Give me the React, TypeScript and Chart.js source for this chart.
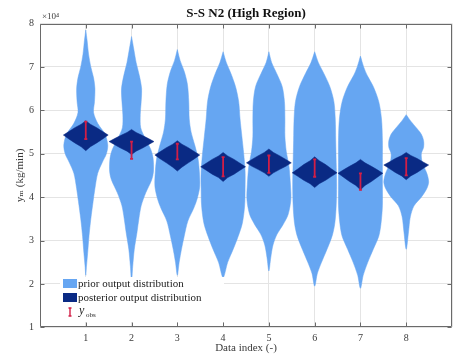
import React, { useEffect, useRef } from 'react';
import { Chart, registerables } from 'chart.js';

Chart.register(...registerables);

// ---- data ----
const categories = [1, 2, 3, 4, 5, 6, 7, 8];
const yTickValues = [1, 2, 3, 4, 5, 6, 7, 8];

// prior violins: y levels (x10^4) and half widths (x units)
const priorY1 = [7.85, 7.6, 7.3, 7.0, 6.75, 6.5, 6.2, 5.95, 5.7, 5.45, 5.2, 5.0, 4.8, 4.55, 4.2, 3.9, 3.5, 3.1, 2.7, 2.4, 2.2];
const priorW1 = [0, 0.03, 0.06, 0.11, 0.17, 0.2, 0.19, 0.17, 0.26, 0.42, 0.48, 0.45, 0.36, 0.26, 0.2, 0.16, 0.11, 0.07, 0.04, 0.015, 0];
const priorY2 = [7.7, 7.4, 7.1, 6.8, 6.5, 6.2, 5.9, 5.6, 5.35, 5.1, 4.9, 4.6, 4.4, 4.1, 3.8, 3.5, 3.2, 2.8, 2.4, 2.05];
const priorW2 = [0, 0.05, 0.1, 0.17, 0.22, 0.21, 0.19, 0.2, 0.3, 0.42, 0.47, 0.48, 0.44, 0.31, 0.21, 0.16, 0.12, 0.06, 0.025, 0];
const priorY3 = [7.4, 7.15, 6.9, 6.6, 6.2, 5.8, 5.5, 5.2, 4.9, 4.6, 4.25, 3.95, 3.75, 3.45, 3.1, 2.8, 2.5, 2.2];
const priorW3 = [0, 0.06, 0.15, 0.22, 0.25, 0.26, 0.3, 0.38, 0.45, 0.48, 0.49, 0.43, 0.36, 0.23, 0.15, 0.09, 0.04, 0];
const priorY4 = [7.35, 7.1, 6.85, 6.55, 6.2, 5.8, 5.4, 5.0, 4.6, 4.2, 3.8, 3.4, 3.1, 2.8, 2.5, 2.15];
const priorW4 = [0, 0.07, 0.17, 0.27, 0.34, 0.37, 0.41, 0.45, 0.48, 0.48, 0.47, 0.42, 0.33, 0.22, 0.1, 0];
const priorY5 = [7.35, 7.1, 6.85, 6.55, 6.2, 5.8, 5.4, 5.05, 4.7, 4.3, 3.95, 3.6, 3.35, 3.15, 2.9, 2.6, 2.3];
const priorW5 = [0, 0.06, 0.17, 0.29, 0.34, 0.35, 0.35, 0.38, 0.44, 0.47, 0.48, 0.42, 0.3, 0.18, 0.09, 0.04, 0];
const priorY6 = [7.35, 7.1, 6.85, 6.55, 6.2, 5.8, 5.3, 4.8, 4.3, 3.8, 3.4, 3.1, 2.8, 2.5, 2.25, 1.95];
const priorW6 = [0, 0.08, 0.2, 0.33, 0.42, 0.45, 0.46, 0.47, 0.48, 0.47, 0.44, 0.38, 0.27, 0.15, 0.06, 0];
const priorY7 = [7.25, 7.0, 6.8, 6.55, 6.2, 5.8, 5.3, 4.8, 4.3, 3.8, 3.4, 3.1, 2.8, 2.5, 2.2, 1.9];
const priorW7 = [0, 0.07, 0.15, 0.28, 0.4, 0.46, 0.48, 0.48, 0.48, 0.48, 0.45, 0.4, 0.28, 0.16, 0.06, 0];
const priorY8 = [5.9, 5.75, 5.6, 5.45, 5.3, 5.15, 5.0, 4.8, 4.55, 4.35, 4.2, 4.0, 3.8, 3.55, 3.2, 2.8];
const priorW8 = [0, 0.1, 0.22, 0.33, 0.38, 0.38, 0.33, 0.35, 0.45, 0.49, 0.45, 0.33, 0.17, 0.09, 0.05, 0];

// posterior violins
const postY1 = [5.76, 5.68, 5.6, 5.51, 5.43, 5.34, 5.25, 5.16, 5.07];
const postY2 = [5.56, 5.49, 5.42, 5.35, 5.28, 5.21, 5.13, 5.06, 4.98];
const postY3 = [5.3, 5.22, 5.14, 5.05, 4.97, 4.88, 4.79, 4.69, 4.6];
const postY4 = [5.03, 4.95, 4.87, 4.78, 4.7, 4.62, 4.53, 4.45, 4.36];
const postY5 = [5.11, 5.03, 4.95, 4.87, 4.79, 4.71, 4.64, 4.56, 4.48];
const postY6 = [4.93, 4.84, 4.75, 4.65, 4.56, 4.48, 4.39, 4.31, 4.22];
const postY7 = [4.87, 4.79, 4.71, 4.63, 4.55, 4.46, 4.36, 4.27, 4.17];
const postY8 = [5.03, 4.96, 4.89, 4.81, 4.74, 4.66, 4.57, 4.49, 4.4];
const postW = [0, 0.1, 0.24, 0.37, 0.49, 0.37, 0.24, 0.1, 0];

// observations (x10^4) with error half-lengths
const obsValues = [5.54, 5.08, 5.05, 4.7, 4.76, 4.67, 4.36, 4.7];
const obsErrors = [0.2, 0.2, 0.18, 0.22, 0.2, 0.2, 0.19, 0.2];

const priorYs = [priorY1, priorY2, priorY3, priorY4, priorY5, priorY6, priorY7, priorY8];
const priorWs = [priorW1, priorW2, priorW3, priorW4, priorW5, priorW6, priorW7, priorW8];
const postYs = [postY1, postY2, postY3, postY4, postY5, postY6, postY7, postY8];

// ---- styles ----
const PRIOR_COLOR = '#66a6f2';
const POST_COLOR = '#0a2a84';
const OBS_COLOR = '#d21e46';
const AXIS_COLOR = '#6a6a6a';
const GRID_COLOR = '#e4e4e4';
const TEXT_COLOR = '#3a3a3a';
const FONT = '"Liberation Serif", "DejaVu Serif", serif';

function violinShape(center: number, ys: number[], ws: number[]) {
  const right = ys.map((y, i) => ({ x: center + ws[i], y }));
  const left = ys.map((y, i) => ({ x: center - ws[i], y })).reverse();
  return right.concat(left.slice(1));
}

const extrasPlugin = {
  id: 'extras',
  afterDatasetsDraw(chart: any) {
    const { ctx, scales } = chart;
    const x = scales.x;
    const y = scales.y;
    ctx.save();
    ctx.strokeStyle = OBS_COLOR;
    ctx.lineWidth = 1.8;
    categories.forEach((c, i) => {
      const px = x.getPixelForValue(c);
      const top = y.getPixelForValue(obsValues[i] + obsErrors[i]);
      const bot = y.getPixelForValue(obsValues[i] - obsErrors[i]);
      ctx.beginPath();
      ctx.moveTo(px, top);
      ctx.lineTo(px, bot);
      ctx.moveTo(px - 1.5, top);
      ctx.lineTo(px + 1.5, top);
      ctx.moveTo(px - 1.5, bot);
      ctx.lineTo(px + 1.5, bot);
      ctx.stroke();
    });
    ctx.restore();
  },
  afterDraw(chart: any) {
    const { ctx, chartArea: a, scales } = chart;
    const x = scales.x;
    const y = scales.y;
    ctx.save();
    // box and inward ticks
    ctx.strokeStyle = AXIS_COLOR;
    ctx.lineWidth = 1;
    const L = Math.round(a.left) + 0.5;
    const R = Math.round(a.right) - 0.5;
    const T = Math.round(a.top) + 0.5;
    const B = Math.round(a.bottom) - 0.5;
    ctx.beginPath();
    ctx.rect(L, T, R - L, B - T);
    yTickValues.forEach((v) => {
      const py = Math.round(y.getPixelForValue(v)) + 0.5;
      ctx.moveTo(L, py); ctx.lineTo(L + 4, py);
      ctx.moveTo(R, py); ctx.lineTo(R - 4, py);
    });
    categories.forEach((v) => {
      const px = Math.round(x.getPixelForValue(v)) + 0.5;
      ctx.moveTo(px, B); ctx.lineTo(px, B - 4);
      ctx.moveTo(px, T); ctx.lineTo(px, T + 4);
    });
    ctx.stroke();

    // exponent label
    ctx.fillStyle = TEXT_COLOR;
    ctx.font = `9px ${FONT}`;
    ctx.textAlign = 'left';
    ctx.textBaseline = 'alphabetic';
    ctx.fillText('×10⁴', 42, 19);

    // title
    ctx.fillStyle = '#111';
    ctx.font = `bold 13px ${FONT}`;
    ctx.textAlign = 'center';
    ctx.textBaseline = 'middle';
    ctx.fillText('S-S N2 (High Region)', (a.left + a.right) / 2, 14);

    // legend
    ctx.fillStyle = '#ffffff';
    ctx.fillRect(60, 277, 164, 45);
    ctx.fillStyle = PRIOR_COLOR;
    ctx.fillRect(63, 279, 14, 9);
    ctx.fillStyle = POST_COLOR;
    ctx.fillRect(63, 293, 14, 9);
    ctx.strokeStyle = OBS_COLOR;
    ctx.lineWidth = 1.4;
    ctx.beginPath();
    ctx.moveTo(70, 308); ctx.lineTo(70, 316);
    ctx.moveTo(68.5, 308); ctx.lineTo(71.5, 308);
    ctx.moveTo(68.5, 316); ctx.lineTo(71.5, 316);
    ctx.stroke();
    ctx.fillStyle = '#222';
    ctx.textAlign = 'left';
    ctx.textBaseline = 'middle';
    ctx.font = `11px ${FONT}`;
    ctx.fillText('prior output distribution', 78, 284);
    ctx.fillText('posterior output distribution', 78, 298);
    ctx.font = `italic 12px ${FONT}`;
    ctx.fillText('y', 79, 311);
    ctx.font = `7px ${FONT}`;
    ctx.fillText('obs', 86, 315);
    ctx.restore();
  },
};

export default function App() {
  const ref = useRef<HTMLCanvasElement | null>(null);

  useEffect(() => {
    if (!ref.current) return;
    const priorSets = categories.map((c, i) => ({
      label: 'prior output distribution',
      data: violinShape(c, priorYs[i], priorWs[i]),
      backgroundColor: PRIOR_COLOR,
      borderColor: PRIOR_COLOR,
      borderWidth: 0.5,
      fill: 'shape',
      tension: 0.3,
      pointRadius: 0,
      order: 2,
    }));
    const postSets = categories.map((c, i) => ({
      label: 'posterior output distribution',
      data: violinShape(c, postYs[i], postW),
      backgroundColor: POST_COLOR,
      borderColor: POST_COLOR,
      borderWidth: 0.5,
      fill: 'shape',
      tension: 0,
      pointRadius: 0,
      order: 1,
    }));

    const chart = new Chart(ref.current, {
      type: 'line',
      data: { datasets: [...postSets, ...priorSets] as any },
      options: {
        animation: false,
        responsive: false,
        devicePixelRatio: 1,
        layout: { padding: { top: 23.5, right: 10, left: 0, bottom: 0 } },
        plugins: {
          legend: { display: false },
          tooltip: { enabled: false },
          title: { display: false },
        },
        scales: {
          x: {
            type: 'linear',
            min: 0,
            max: 9,
            grid: { color: GRID_COLOR, drawTicks: false },
            border: { display: false },
            ticks: {
              stepSize: 1,
              padding: 5,
              color: TEXT_COLOR,
              font: { family: FONT, size: 10 },
              callback: (v: any) => (v >= 1 && v <= 8 ? String(v) : ''),
            },
            title: {
              display: true,
              text: 'Data index (-)',
              color: TEXT_COLOR,
              font: { family: FONT, size: 11 },
              padding: { top: 0, bottom: 1 },
            },
            afterFit(scale: any) {
              scale.height = 28.6;
              scale.paddingLeft = 0;
              scale.paddingRight = 0;
            },
          },
          y: {
            type: 'linear',
            min: 1,
            max: 8,
            grid: { color: GRID_COLOR, drawTicks: false },
            border: { display: false },
            ticks: {
              stepSize: 1,
              padding: 6,
              color: TEXT_COLOR,
              font: { family: FONT, size: 10 },
            },
            title: {
              display: true,
              text: 'yₘ (kg/min)',
              color: TEXT_COLOR,
              font: { family: FONT, size: 11 },
              padding: { top: 14, bottom: 0 },
            },
            afterFit(scale: any) {
              scale.width = 40;
              scale.paddingTop = 0;
              scale.paddingBottom = 0;
            },
          },
        },
      } as any,
      plugins: [extrasPlugin],
    });
    return () => chart.destroy();
  }, []);

  return (
    <div style={{ position: 'absolute', left: 0, top: 0, width: 462, height: 356, background: '#fff' }}>
      <canvas ref={ref} width={462} height={356} />
    </div>
  );
}
